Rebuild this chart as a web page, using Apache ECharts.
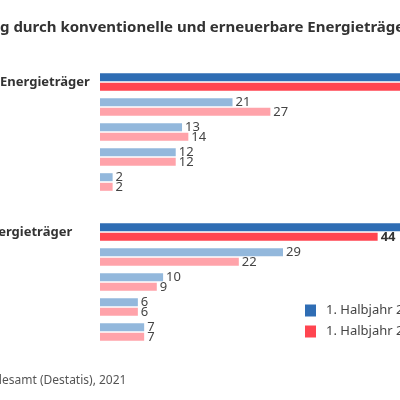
<!DOCTYPE html>
<html>
<head>
<meta charset="utf-8">
<script src="https://cdn.jsdelivr.net/npm/echarts@6/dist/echarts.min.js"></script>
<style>
  html, body { margin: 0; padding: 0; width: 400px; height: 400px; overflow: hidden; background: #fff; }
  #chart { position: absolute; left: -140px; top: 0; width: 760px; height: 400px; }
</style>
</head>
<body>
<div id="chart"></div>
<script>
// Daten (Anteile in %)
var categories = ['Konventionelle Energieträger', 'Kohle', 'Erdgas', 'Kernenergie', 'Sonstige', '',
  'Erneuerbare Energieträger', 'Windkraft', 'Photovoltaik', 'Biogas', 'Sonstige'];
var mainRows = [0, 6];
var halbjahr2020 = [48, 21, 13, 12, 2, null, 52, 29, 10, 6, 7];
var halbjahr2021 = [56, 27, 14, 12, 2, null, 44, 22, 9, 6, 7];
var seriesNames = ['1. Halbjahr 2020', '1. Halbjahr 2021'];

var FONT = 'Noto Sans';
var OFF = 140; // der Ausschnitt beginnt 140px rechts vom Diagrammrand

// Textbreite messen, damit der Ausschnitt an der richtigen Stelle liegt
var ctx = document.createElement('canvas').getContext('2d');
function textWidth(txt, size, weight) {
  ctx.font = (weight || 'normal') + ' ' + size + 'px "' + FONT + '"';
  return ctx.measureText(txt).width;
}

var gridLeft = OFF + 100;
var labelX = OFF - textWidth('Konventionelle ', 13, 'bold');

function buildData(values, dark, light) {
  return values.map(function (v, i) {
    if (v == null) return '-';
    var main = mainRows.indexOf(i) >= 0;
    return {
      value: v,
      itemStyle: { color: main ? dark : light },
      label: main ? { fontWeight: 'bold', color: '#333' } : {}
    };
  });
}

var myChart = echarts.init(document.getElementById('chart'));

var option = {
  animation: false,
  textStyle: { fontFamily: FONT },
  title: {
    text: 'Stromerzeugung durch konventionelle und erneuerbare Energieträger',
    left: OFF - textWidth('Stromerzeugun', 15, 'bold'),
    top: 20,
    padding: 0,
    textStyle: { fontFamily: FONT, fontSize: 15, fontWeight: 'bold', color: '#333' }
  },
  legend: {
    data: seriesNames,
    orient: 'vertical',
    left: OFF + 305,
    top: 304,
    padding: 0,
    icon: 'rect',
    itemWidth: 11,
    itemHeight: 12,
    itemGap: 8,
    textStyle: { fontFamily: FONT, fontSize: 13, color: '#444', padding: [0, 0, 0, 5] }
  },
  graphic: [{
    type: 'text',
    left: OFF + 2 - textWidth('Quelle: Statistisches Bund', 12),
    top: 375,
    style: {
      text: 'Quelle: Statistisches Bundesamt (Destatis), 2021',
      font: '12px "' + FONT + '"',
      fill: '#555'
    }
  }],
  grid: {
    left: gridLeft, top: 69.5, width: 60 * 6.31, height: 275,
    containLabel: false, outerBoundsMode: 'none'
  },
  xAxis: {
    type: 'value',
    min: 0,
    max: 60,
    show: false
  },
  yAxis: {
    type: 'category',
    inverse: true,
    data: categories.map(function (c, i) {
      return mainRows.indexOf(i) >= 0
        ? { value: c, textStyle: { fontWeight: 'bold', color: '#333', align: 'left', fontSize: 13 } }
        : c;
    }),
    axisLine: { show: false },
    axisTick: { show: false },
    axisLabel: {
      align: 'left',
      margin: gridLeft - labelX,
      fontSize: 13,
      color: '#444'
    }
  },
  series: [{
    name: seriesNames[0],
    type: 'bar',
    barWidth: 8,
    barGap: '20%',
    itemStyle: { color: '#2f6db4' },
    label: { show: true, position: 'right', distance: 3, fontSize: 13, color: '#444' },
    data: buildData(halbjahr2020, '#2f6db4', '#93b8dc')
  }, {
    name: seriesNames[1],
    type: 'bar',
    barWidth: 8,
    barGap: '20%',
    itemStyle: { color: '#ff4550' },
    label: { show: true, position: 'right', distance: 3, fontSize: 13, color: '#444' },
    data: buildData(halbjahr2021, '#ff4550', '#ffa3aa')
  }]
};

myChart.setOption(option);
</script>
</body>
</html>
